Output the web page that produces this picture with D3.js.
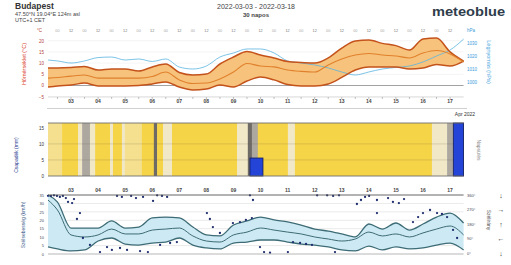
<!DOCTYPE html>
<html>
<head>
<meta charset="utf-8">
<script src="https://cdn.jsdelivr.net/npm/d3@7"></script>
<style>
  body { margin: 0; background: #fff; }
  svg { display: block; font-family: "Liberation Sans", Arial, sans-serif; }
</style>
</head>
<body>
<div id="chart"></div>
<script>
// sample positions, in days from 2022-03-03 00:00
const days = [-0.35, 0, 0.5, 1, 1.5, 2, 2.5, 3, 3.5, 4, 4.5, 5, 5.5, 6, 6.5, 7,
    7.5, 8, 8.5, 9, 9.5, 10, 10.5, 11, 11.5, 12, 12.5, 13, 13.5, 14, 14.5, 15];
const dayLabels = ["03", "04", "05", "06", "07", "08", "09", "10", "11", "12",
    "13", "14", "15", "16", "17"];

// temperature (°C) and pressure (hPa)
const tMax = [7.8, 7.8, 8.0, 8.5, 6.9, 7.4, 7.4, 6.5, 8.3, 9.6, 5.8, 4.7, 5.1, 9.6, 12.7, 15.2,
    13.6, 12.3, 10.7, 10.3, 10.0, 12.3, 16.7, 19.9, 20.3, 18.8, 17.8, 15.8, 20.8, 21.2, 15.0, 10.9];
const tMean = [3.3, 3.6, 4.2, 4.7, 3.3, 3.3, 3.3, 3.3, 4.0, 6.0, 2.5, 0.9, 1.1, 2.9, 6.0, 9.8,
    8.7, 8.3, 6.9, 6.3, 6.0, 9.2, 11.8, 13.6, 14.3, 13.6, 13.2, 12.3, 14.5, 15.6, 14.1, 10.5];
const tMin = [-0.7, -0.2, 0.2, 1.1, -0.2, -0.2, -0.2, 0, 0.7, 1.6, -0.7, -2.0, -1.6, 0.2, -0.7, 2.0,
    3.8, 2.5, 0.4, -0.2, -0.2, 0.7, 3.6, 6.9, 8.3, 8.3, 8.3, 7.4, 7.8, 9.4, 8.7, 10.9];
const pressure = [1016.9, 1016.2, 1014.6, 1016.2, 1018.8, 1019.2, 1016.9, 1017.7, 1015.8, 1017.7,
    1011.5, 1010, 1012.3, 1019.2, 1022.3, 1025.4, 1025.4, 1022.3, 1016.2, 1014.6, 1013.1, 1010.8,
    1007.7, 1005.4, 1007.7, 1010, 1011.2, 1012.3, 1015.4, 1020, 1024.6, 1033];
const tTicks = [-5, 0, 5, 10, 15, 20];
const pTicks = [1000, 1010, 1020, 1030];

// sunshine / cloud strips and precipitation
const sunEdges = [-0.35, 0.17, 0.76, 0.91, 1.2, 1.39, 1.94, 2.05, 2.38, 2.49, 3.12, 3.56, 3.68,
    3.9, 4.23, 6.63, 7.03, 7.18, 7.4, 8.51, 8.77, 13.83, 14.39, 14.62, 15];
const sunType = ["L", "Y", "P", "G", "P", "Y", "P", "Y", "P", "L", "Y", "D", "Y", "P", "Y", "P",
    "D", "G", "Y", "P", "Y", "P", "G", "G"];
const precStart = [7.11, 14.62];
const precEnd = [7.59, 15.0];
const precMm = [5.6, 16.5];
const precTicks = [0, 5, 10, 15];

// wind speed (km/h) and direction (°)
const windMax = [35.0, 30.8, 15.4, 15.4, 15.4, 19.6, 15.4, 16.0, 21.4, 21.9, 21.4, 16.0, 11.3, 10.7,
    17.2, 19.6, 21.9, 20.2, 19.0, 17.2, 14.8, 13.6, 11.9, 10.1, 17.8, 14.8, 18.4, 14.2, 17.8, 21.9, 24.3, 18.4];
const windMean = [32.0, 26.1, 11.3, 10.1, 11.3, 14.8, 11.9, 11.9, 14.2, 14.8, 15.4, 10.7, 7.7, 7.1,
    11.3, 13.0, 15.4, 14.2, 13.0, 11.9, 10.1, 8.9, 7.7, 8.9, 13.0, 10.7, 11.9, 10.1, 12.5, 14.8, 16.6, 11.3];
const windMin = [4.2, 3.0, 1.8, 2.4, 7.7, 9.5, 5.9, 5.3, 6.5, 7.1, 9.5, 5.3, 3.6, 3.0,
    6.5, 7.1, 8.3, 8.3, 7.1, 5.9, 5.3, 4.2, 2.4, 1.8, 4.7, 2.4, 4.2, 3.0, 3.6, 5.3, 6.5, 2.4];
const dirDay = [-0.35, -0.24, -0.13, -0.02, 0.09, 0.2, 0.31, 0.39, 0.54, 0.61, 0.83, 0.72, 0.94, 1.2,
    1.57, 1.83, 2.01, 2.2, 2.38, 2.31, 2.57, 2.72, 2.9, 3.05, 3.16, 3.34, 3.53, 3.68, 3.86, 4.05,
    3.79, 4.16, 4.41, 5.52, 5.63, 5.74, 6.0, 6.48, 6.74, 6.96, 7.18, 7.11, 7.22, 7.48, 7.63, 7.85,
    8.51, 8.7, 8.96, 9.18, 9.4, 9.59, 9.96, 10.18, 10.4, 10.25, 11.06, 11.21, 11.36, 11.51, 11.8,
    11.8, 12.21, 12.39, 12.61, 12.8, 13.13, 13.32, 13.5, 13.76, 14.02, 14.2, 14.39, 14.61, 14.76];
const dirDeg = [355, 354, 358, 354, 348, 354, 341, 317, 310, 335, 248, 211, 93, 50,
    6, 37, 19, 354, 348, 31, 19, 354, 341, 12, 348, 6, 323, 358, 354, 348,
    50, 62, 68, 248, 211, 161, 124, 186, 192, 205, 217, 358, 329, 37, 6, 2,
    6, 68, 62, 56, 50, 358, 358, 354, 358, 6, 304, 329, 348, 354, 329,
    248, 341, 317, 310, 335, 192, 223, 248, 267, 248, 242, 223, 143, 93];
const windTicks = [0, 5, 10, 15, 20, 25, 30, 35];
const dirTicks = [0, 90, 180, 270, 360];
const dirArrows = ["↓", "←", "↑", "→", "↓"];

const sunColor = { Y: "#f6d447", L: "#f4e08e", P: "#f1e8c8", G: "#aca79f", D: "#6e6a66" };

const svg = d3.select("#chart").append("svg")
    .attr("width", 511)
    .attr("height", 265);
svg.append("rect").attr("width", 511).attr("height", 265).attr("fill", "#fff");

const x = d3.scaleLinear().domain([-0.35, 15]).range([48, 463.6]);
const halfDays = d3.range(0, 15, 0.5);

// header
svg.append("text").attr("x", 15).attr("y", 9).attr("font-size", 8.5).attr("font-weight", "bold")
    .attr("fill", "#333").text("Budapest");
svg.append("text").attr("x", 15).attr("y", 15.5).attr("font-size", 5.5).attr("fill", "#444")
    .text("47.50°N  19.04°E  124m asl");
svg.append("text").attr("x", 15).attr("y", 21.5).attr("font-size", 5.5).attr("fill", "#444")
    .text("UTC+1 CET");
svg.append("text").attr("x", 256).attr("y", 9).attr("font-size", 7).attr("text-anchor", "middle")
    .attr("fill", "#444").text("2022-03-03 - 2022-03-18");
svg.append("text").attr("x", 256).attr("y", 16.5).attr("font-size", 6).attr("font-weight", "bold")
    .attr("text-anchor", "middle").attr("fill", "#444").text("30 napos");
svg.append("text").attr("x", 432).attr("y", 16).attr("font-size", 13).attr("font-weight", "bold")
    .attr("textLength", 73).attr("lengthAdjust", "spacingAndGlyphs")
    .attr("fill", "#2f3d4c").text("meteoblue");

function smallAxis(g, color, size) {
    g.select(".domain").remove();
    g.selectAll("text").attr("font-size", size).attr("fill", color)
        .attr("font-family", "Liberation Sans, Arial, sans-serif");
}

// ---- panel 1: temperature + pressure
const yT = d3.scaleLinear().domain([-5, 25]).range([96.7, 29.5]);
const yP = d3.scaleLinear().domain([1000, 1030]).range([82, 43]);

svg.append("g").selectAll("line").data(tTicks).join("line")
    .attr("x1", 48).attr("x2", 463.6)
    .attr("y1", d => yT(d)).attr("y2", d => yT(d))
    .attr("stroke", d => d === 0 ? "#8a8a8a" : "#ececec")
    .attr("stroke-width", d => d === 0 ? 0.8 : 0.6);

const tRows = days.map((d, i) => ({ d, max: tMax[i], mean: tMean[i], min: tMin[i], p: pressure[i] }));

svg.append("path").datum(tRows)
    .attr("fill", "#f7c37c")
    .attr("d", d3.area().curve(d3.curveMonotoneX)
        .x(r => x(r.d)).y0(r => yT(r.min)).y1(r => yT(r.max)));

svg.append("path").datum(tRows)
    .attr("fill", "none").attr("stroke", "#5ab4e0").attr("stroke-width", 0.8)
    .attr("d", d3.line().curve(d3.curveMonotoneX).x(r => x(r.d)).y(r => yP(r.p)));

[["max", "#c4521b", 1.5], ["min", "#c4521b", 1.5], ["mean", "#e0802c", 1.1]].forEach(([k, c, w]) => {
    svg.append("path").datum(tRows)
        .attr("fill", "none").attr("stroke", c).attr("stroke-width", w)
        .attr("d", d3.line().curve(d3.curveMonotoneX).x(r => x(r.d)).y(r => yT(r[k])));
});

svg.append("line").attr("x1", 48).attr("x2", 463.6).attr("y1", 97).attr("y2", 97)
    .attr("stroke", "#cfcfcf").attr("stroke-width", 0.6);

svg.append("g").attr("transform", "translate(45,0)")
    .call(d3.axisLeft(yT).tickValues(tTicks).tickSize(0).tickPadding(1))
    .call(g => smallAxis(g, "#b5443a", 4.5));
svg.append("g").attr("transform", "translate(466,0)")
    .call(d3.axisRight(yP).tickValues(pTicks).tickSize(0).tickPadding(1).tickFormat(d3.format("d")))
    .call(g => smallAxis(g, "#3a9ad9", 4.5));
svg.append("text").attr("x", 42).attr("y", 32).attr("font-size", 4.5).attr("text-anchor", "end")
    .attr("fill", "#b5443a").text("°C");
svg.append("text").attr("x", 467).attr("y", 32).attr("font-size", 4.5).attr("fill", "#3a9ad9").text("hPa");

svg.append("text").attr("transform", "translate(26,64) rotate(-90)").attr("text-anchor", "middle")
    .attr("font-size", 5.5).attr("fill", "#d9412b").text("Hőmérséklet (°C)");
svg.append("text").attr("transform", "translate(487,62) rotate(90)").attr("text-anchor", "middle")
    .attr("font-size", 5.5).attr("fill", "#4aa8e0").text("Légnyomás (hPa)");

// hour row on top, tick marks at bottom
svg.append("g").selectAll("text").data(halfDays).join("text")
    .attr("x", d => x(d)).attr("y", 31.5).attr("text-anchor", "middle")
    .attr("font-size", 3.8).attr("fill", (d, i) => i % 2 ? "#777" : "#aaa")
    .text((d, i) => i % 2 ? "12" : "00");
svg.append("g").selectAll("line").data(halfDays).join("line")
    .attr("x1", d => x(d)).attr("x2", d => x(d)).attr("y1", 97).attr("y2", 99)
    .attr("stroke", "#999").attr("stroke-width", 0.6);

function dayRow(y) {
    svg.append("g").selectAll("text").data(dayLabels).join("text")
        .attr("x", (d, i) => x(i + 0.5)).attr("y", y).attr("text-anchor", "middle")
        .attr("font-size", 5).attr("font-weight", "bold").attr("fill", "#444").text(d => d);
}
dayRow(103);
svg.append("line").attr("x1", 47).attr("x2", 467).attr("y1", 108.5).attr("y2", 108.5)
    .attr("stroke", "#c4c4c4").attr("stroke-width", 0.8);

// ---- panel 2: sunshine strips + precipitation
const yR = d3.scaleLinear().domain([0, 16.5]).range([176, 123]).clamp(true);

svg.append("g").selectAll("rect").data(sunType).join("rect")
    .attr("x", (d, i) => x(sunEdges[i]))
    .attr("width", (d, i) => x(sunEdges[i + 1]) - x(sunEdges[i]) + 0.3)
    .attr("y", 123).attr("height", 53)
    .attr("fill", d => sunColor[d]);

svg.append("g").selectAll("line").data([5, 10]).join("line")
    .attr("x1", 48).attr("x2", 463.6).attr("y1", d => yR(d)).attr("y2", d => yR(d))
    .attr("stroke", "rgba(110,100,70,0.35)").attr("stroke-width", 0.6);

svg.append("g").selectAll("rect").data(precMm).join("rect")
    .attr("x", (d, i) => x(precStart[i]))
    .attr("width", (d, i) => x(precEnd[i]) - x(precStart[i]))
    .attr("y", d => yR(d)).attr("height", d => yR(0) - yR(d))
    .attr("fill", "#2344d6").attr("stroke", "#121c5c").attr("stroke-width", 0.8);

[123, 176].forEach(y => svg.append("line").attr("x1", 48).attr("x2", 463.6)
    .attr("y1", y).attr("y2", y).attr("stroke", "#6f6f6f").attr("stroke-width", 0.9));

svg.append("g").attr("transform", "translate(45,0)")
    .call(d3.axisLeft(yR).tickValues(precTicks).tickSize(0).tickPadding(1))
    .call(g => smallAxis(g, "#333", 4.5));
svg.append("text").attr("transform", "translate(18,155) rotate(-90)").attr("text-anchor", "middle")
    .attr("font-size", 5).attr("fill", "#2a3d8f").text("Csapadék (mm)");
svg.append("text").attr("transform", "translate(477,150) rotate(90)").attr("text-anchor", "middle")
    .attr("font-size", 5).attr("fill", "#888").text("Napsütés");
svg.append("text").attr("x", 465).attr("y", 116).attr("text-anchor", "middle")
    .attr("font-size", 5).attr("fill", "#333").text("Apr 2022");

dayRow(192);

// ---- panel 3: wind
const yW = d3.scaleLinear().domain([0, 35]).range([254, 195]);
const yD = d3.scaleLinear().domain([0, 360]).range([253, 195]);

svg.append("g").selectAll("line").data(windTicks.slice(1, -1)).join("line")
    .attr("x1", 48).attr("x2", 463.6).attr("y1", d => yW(d)).attr("y2", d => yW(d))
    .attr("stroke", "#dcdcdc").attr("stroke-width", 0.6);

const wRows = days.map((d, i) => ({ d, max: windMax[i], mean: windMean[i], min: windMin[i] }));

svg.append("path").datum(wRows)
    .attr("fill", "#cde9f3")
    .attr("d", d3.area().curve(d3.curveMonotoneX)
        .x(r => x(r.d)).y0(r => yW(r.min)).y1(r => yW(r.max)));

[["max", 1.3], ["mean", 1.0], ["min", 1.3]].forEach(([k, w]) => {
    svg.append("path").datum(wRows)
        .attr("fill", "none").attr("stroke", "#3d6c76").attr("stroke-width", w)
        .attr("d", d3.line().curve(d3.curveMonotoneX).x(r => x(r.d)).y(r => yW(r[k])));
});

svg.append("g").selectAll("circle").data(dirDeg).join("circle")
    .attr("cx", (d, i) => x(dirDay[i])).attr("cy", d => yD(d)).attr("r", 1.15)
    .attr("fill", "#1f2d6e");

svg.append("line").attr("x1", 48).attr("x2", 463.6).attr("y1", 195).attr("y2", 195)
    .attr("stroke", "#555").attr("stroke-width", 0.9);
svg.append("line").attr("x1", 48).attr("x2", 463.6).attr("y1", 254).attr("y2", 254)
    .attr("stroke", "#999").attr("stroke-width", 0.7);

svg.append("g").attr("transform", "translate(45,0)")
    .call(d3.axisLeft(yW).tickValues(windTicks).tickSize(0).tickPadding(1))
    .call(g => smallAxis(g, "#445", 4));
svg.append("g").attr("transform", "translate(466,0)")
    .call(d3.axisRight(yD).tickValues(dirTicks).tickSize(0).tickPadding(1).tickFormat(d => d + "°"))
    .call(g => smallAxis(g, "#445", 4));
svg.append("text").attr("transform", "translate(25,225) rotate(-90)").attr("text-anchor", "middle")
    .attr("font-size", 5).attr("fill", "#3a5a8a").text("Szélsebesség (km/h)");
svg.append("text").attr("transform", "translate(487,220) rotate(90)").attr("text-anchor", "middle")
    .attr("font-size", 5).attr("fill", "#555").text("Szélirány");
svg.append("g").selectAll("text").data(dirTicks).join("text")
    .attr("x", 501).attr("y", d => yD(d) + 2.5).attr("text-anchor", "middle")
    .attr("font-size", 7).attr("font-weight", "bold").attr("fill", "#333")
    .text((d, i) => dirArrows[i]);
</script>
</body>
</html>
